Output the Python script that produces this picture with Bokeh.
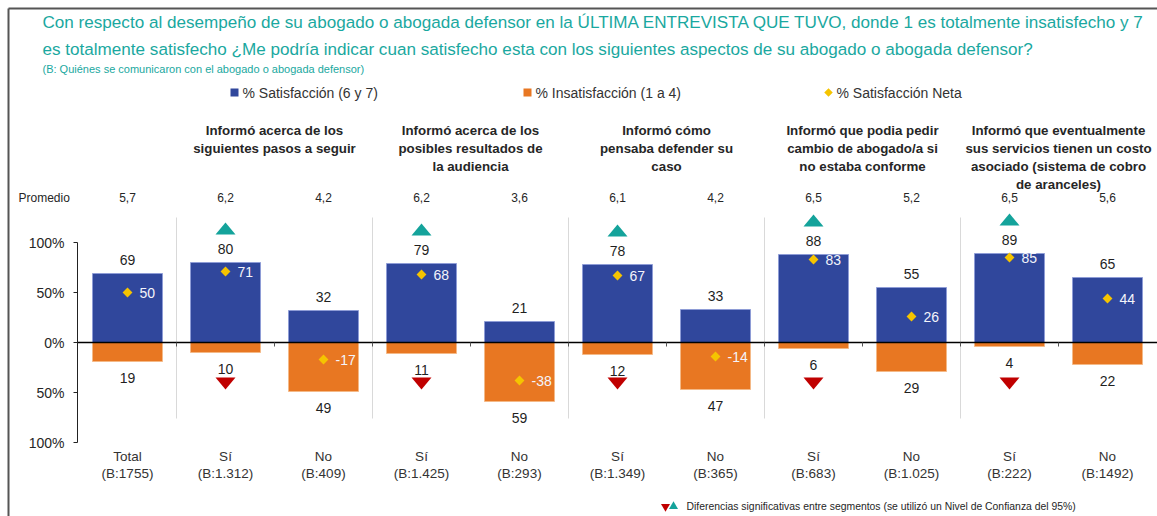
from bokeh.plotting import figure
from bokeh.models import Range1d, LinearAxis, FixedTicker
from bokeh.core.properties import value
from bokeh.embed import file_html
from bokeh.resources import INLINE

# ---------------- data ----------------
categories = ["Total", "Sí", "No", "Sí", "No", "Sí", "No", "Sí", "No", "Sí", "No"]
bases = ["(B:1755)", "(B:1.312)", "(B:409)", "(B:1.425)", "(B:293)", "(B:1.349)",
         "(B:365)", "(B:683)", "(B:1.025)", "(B:222)", "(B:1492)"]
satisfaccion = [69, 80, 32, 79, 21, 78, 33, 88, 55, 89, 65]
insatisfaccion = [19, 10, 49, 11, 59, 12, 47, 6, 29, 4, 22]
satisfaccion_neta = [50, 71, -17, 68, -38, 67, -14, 83, 26, 85, 44]
promedio = ["5,7", "6,2", "4,2", "6,2", "3,6", "6,1", "4,2", "6,5", "5,2", "6,5", "5,6"]
sig_up = [1, 3, 5, 7, 9]      # significantly higher satisfaction
sig_down = [1, 3, 5, 7, 9]    # significantly lower insatisfaction
group_start = [1, 3, 5, 7, 9]
group_titles = [
    ["Informó acerca de los", "siguientes pasos a seguir"],
    ["Informó acerca de los", "posibles resultados de", "la audiencia"],
    ["Informó cómo", "pensaba defender su", "caso"],
    ["Informó que podia pedir", "cambio de abogado/a si", "no estaba conforme"],
    ["Informó que eventualmente", "sus servicios tienen un costo", "asociado (sistema de cobro", "de aranceles)"],
]
y_ticks = [-100, -50, 0, 50, 100]
y_tick_labels = ["100%", "50%", "0%", "50%", "100%"]
title_lines = [
    "Con respecto al desempeño de su abogado o abogada defensor en la ÚLTIMA ENTREVISTA QUE TUVO, donde 1 es totalmente insatisfecho y 7",
    "es totalmente satisfecho ¿Me podría indicar cuan satisfecho esta con los siguientes aspectos de su abogado o abogada defensor?",
]
subtitle = "(B: Quiénes se comunicaron con el abogado o abogada defensor)"
legend_labels = ["% Satisfacción (6 y 7)", "% Insatisfacción (1 a 4)", "% Satisfacción Neta"]
footnote = "Diferencias significativas entre segmentos (se utilizó un Nivel de Confianza del 95%)"

# ---------------- layout ----------------
W, H = 1157, 516
STEP = 98.0          # px per category
CX0 = 127.0          # page x of first category centre
ZY = 342.0           # page y of 0%

def px(page_x):
    return (page_x - CX0) / STEP

def py(page_y):
    return ZY - page_y

x_start = px(0)
x_end = x_start + W / STEP
y_top = py(0)
y_bot = y_top - H

FONT = value("Liberation Sans")
BLUE = "#30479C"
ORANGE = "#E87722"
GOLD = "#F5C400"
TEAL = "#14A39B"
RED = "#C00000"
TITLE_C = "#1AA8A0"
TXT = "#1f1f1f"
ROT = 0.7853981634

p = figure(width=W, height=H, output_backend="svg", toolbar_location=None,
           x_range=Range1d(x_start, x_end), y_range=Range1d(y_bot, y_top),
           x_axis_type=None, y_axis_type=None,
           min_border=0, min_border_left=0, min_border_right=0,
           min_border_top=0, min_border_bottom=0)
p.outline_line_color = None
p.background_fill_color = "white"

idx = list(range(len(categories)))

# frame border (top and left)
bx = x_start + 8 / STEP
p.segment(x0=[bx, bx], y0=[py(8), y_bot],
          x1=[x_end, bx], y1=[py(8), py(8)],
          line_color="#555555", line_width=2)

# title
for k, line in enumerate(title_lines):
    p.text(x=[px(42)], y=[py(22 + 27 * k)], text=[line], text_font=FONT,
           text_font_size="17.1px", text_color=TITLE_C, text_align="left",
           text_baseline="middle")
p.text(x=[px(42)], y=[py(68)], text=[subtitle], text_font=FONT,
       text_font_size="11px", text_color=TITLE_C, text_align="left",
       text_baseline="middle")

# legend
leg_x = [234, 527, 828]
p.scatter(x=[px(leg_x[0])], y=[py(92)], marker="square", size=8,
          fill_color=BLUE, line_color=None)
p.scatter(x=[px(leg_x[1])], y=[py(92)], marker="square", size=8,
          fill_color=ORANGE, line_color=None)
p.scatter(x=[px(leg_x[2])], y=[py(92)], marker="square", angle=ROT, size=6,
          fill_color=GOLD, line_color=None)
p.text(x=[px(v + 8) for v in leg_x], y=[py(92)] * 3, text=legend_labels,
       text_font=FONT, text_font_size="14px", text_color="#333333",
       text_align="left", text_baseline="middle")

# group headers
for g, lines in zip(group_start, group_titles):
    for k, line in enumerate(lines):
        p.text(x=[g + 0.5], y=[py(130 + 18 * k)], text=[line], text_font=FONT,
               text_font_size="13.3px", text_font_style="bold", text_color="#262626",
               text_align="center", text_baseline="middle")

# promedio row
p.text(x=[px(18)], y=[py(197)], text=["Promedio"], text_font=FONT,
       text_font_size="12px", text_color="#262626", text_align="left",
       text_baseline="middle")
p.text(x=idx, y=[py(197)] * len(idx), text=promedio, text_font=FONT,
       text_font_size="12px", text_color="#262626", text_align="center",
       text_baseline="middle")

# group separators
sep_x = [g - 0.5 for g in group_start]
p.segment(x0=sep_x, y0=[-76] * len(sep_x), x1=sep_x, y1=[125] * len(sep_x),
          line_color="#D9D9D9", line_width=1)

# bars
BW = 70 / STEP
p.vbar(x=idx, top=satisfaccion, bottom=0, width=BW, fill_color=BLUE,
       line_color="#8E9CD6", line_width=1)
p.vbar(x=idx, top=0, bottom=[-v for v in insatisfaccion], width=BW,
       fill_color=ORANGE, line_color="#F4B987", line_width=1)

# value labels
p.text(x=idx, y=[v + 14 for v in satisfaccion], text=[str(v) for v in satisfaccion],
       text_font=FONT, text_font_size="14px", text_color=TXT,
       text_align="center", text_baseline="middle")
p.text(x=idx, y=[-(v + 16) for v in insatisfaccion], text=[str(v) for v in insatisfaccion],
       text_font=FONT, text_font_size="14px", text_color=TXT,
       text_align="center", text_baseline="middle")

# net satisfaction
p.scatter(x=idx, y=satisfaccion_neta, marker="square", angle=ROT, size=7,
          fill_color=GOLD, line_color=None)
p.text(x=idx, y=satisfaccion_neta, text=[str(v) for v in satisfaccion_neta],
       x_offset=12, text_font=FONT, text_font_size="14px", text_color="#F4F4FA",
       text_align="left", text_baseline="middle")

# significance triangles
TW = 10 / STEP
up_xs, up_ys = [], []
for i in sig_up:
    yc = satisfaccion[i] + 34
    up_xs.append([i - TW, i + TW, i])
    up_ys.append([yc - 6, yc - 6, yc + 6])
p.patches(xs=up_xs, ys=up_ys, fill_color=TEAL, line_color=None)
dn_xs, dn_ys = [], []
for i in sig_down:
    yc = -41
    dn_xs.append([i - TW, i + TW, i])
    dn_ys.append([yc + 6, yc + 6, yc - 6])
p.patches(xs=dn_xs, ys=dn_ys, fill_color=RED, line_color=None)

# axes
yaxis = LinearAxis(fixed_location=px(77), ticker=FixedTicker(ticks=y_ticks),
                   bounds=(-100, 100))
yaxis.major_label_overrides = {t: l for t, l in zip(y_ticks, y_tick_labels)}
yaxis.axis_line_color = "#222222"
yaxis.major_tick_line_color = "#222222"
yaxis.major_tick_out = 4
yaxis.major_tick_in = 0
yaxis.minor_tick_out = 0
yaxis.minor_tick_in = 0
yaxis.major_label_standoff = 9
yaxis.major_label_text_font = "Liberation Sans"
yaxis.major_label_text_font_size = "14px"
yaxis.major_label_text_color = "#262626"
p.add_layout(yaxis, "left")

xaxis = LinearAxis(fixed_location=0,
                   ticker=FixedTicker(ticks=[], minor_ticks=[i + 0.5 for i in idx[:-1]]),
                   bounds=(px(77), x_end))
xaxis.axis_line_color = "#000000"
xaxis.axis_line_width = 1.3
xaxis.major_tick_out = 0
xaxis.major_tick_in = 0
xaxis.minor_tick_line_color = "#555555"
xaxis.minor_tick_out = 4
xaxis.minor_tick_in = 0
p.add_layout(xaxis, "below")

# category labels
p.text(x=idx, y=[py(456)] * len(idx), text=categories, text_font=FONT,
       text_font_size="13.5px", text_color="#333333", text_align="center",
       text_baseline="middle")
p.text(x=idx, y=[py(473)] * len(idx), text=bases, text_font=FONT,
       text_font_size="13.5px", text_color="#333333", text_align="center",
       text_baseline="middle")

# footnote
p.scatter(x=[px(665)], y=[py(506)], marker="inverted_triangle", size=9,
          fill_color=RED, line_color=None)
p.scatter(x=[px(673)], y=[py(506)], marker="triangle", size=9,
          fill_color=TEAL, line_color=None)
p.text(x=[px(686)], y=[py(506)], text=[footnote], text_font=FONT,
       text_font_size="10.4px", text_color="#262626", text_align="left",
       text_baseline="middle")

open("out.html", "w").write(file_html(p, INLINE))
